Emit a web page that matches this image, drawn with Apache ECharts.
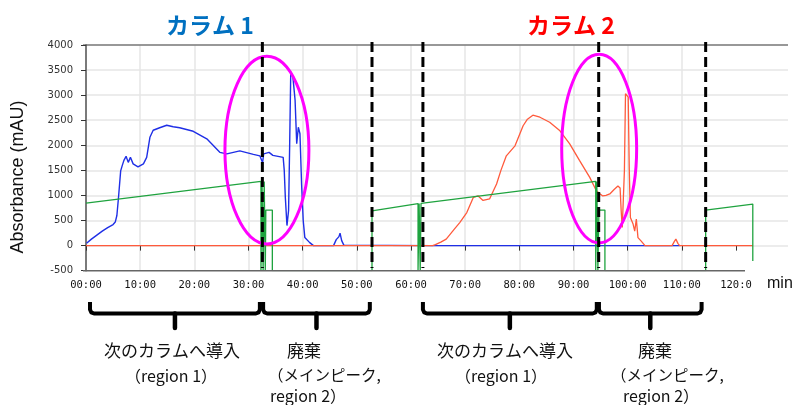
<!DOCTYPE html>
<html><head><meta charset="utf-8">
<script src="https://cdn.jsdelivr.net/npm/echarts@6/dist/echarts.min.js"></script>
<style>html,body{margin:0;padding:0;background:#fff}#c{width:798px;height:405px}</style>
</head><body><div id="c"></div>
<script>
// ---- data (time in minutes, absorbance in mAU) ----
const col1Time = [0.1,1,2,3,4,5,5.4,5.7,6,6.4,6.7,7,7.4,7.8,8.2,8.7,9.6,10.6,11.2,11.8,12.4,13.6,14.9,16.1,17.3,19.8,22.3,24.7,26,28.4,30.9,32.1,32.4,32.6,32.8,33.8,34.5,36.4,36.6,36.8,37.1,37.4,37.6,37.8,38.2,38.6,38.9,39.2,39.5,39.8,40.1,40.4,41.3,42,45.7,46.2,46.7,46.9,47.2,47.6,47.9,64,109.6];
const col1Abs  = [48,130,210,290,360,420,470,600,960,1490,1600,1700,1780,1660,1760,1630,1570,1630,1760,2160,2300,2350,2400,2370,2350,2280,2130,1860,1830,1890,1820,1790,1800,1650,1830,1860,1800,1760,1500,960,400,700,2000,3460,3360,2900,2030,2360,2230,1230,500,160,60,0,0,120,180,250,100,10,0,0,0];
const col2Time = [0,64,64.5,65.5,66.5,68,69,70.3,71.5,72.4,73.3,74.5,75.8,76.6,77.6,79.2,80.7,81.5,82.5,83.8,85.6,87.5,89.3,91.1,93,94.2,94.8,95.4,96,96.7,97.5,98.2,98.6,98.8,99,99.4,99.6,100.1,100.3,100.5,101,101.3,101.6,101.9,102.5,103.2,108.2,108.6,108.9,109.3,109.6,123.1];
const col2Abs  = [0,0,20,70,130,330,460,660,960,990,900,930,1230,1500,1790,1990,2390,2520,2600,2560,2460,2290,2030,1700,1360,1100,1040,990,1000,1030,1120,1190,1150,700,360,1500,3030,2960,1500,560,430,290,530,160,90,0,0,80,130,40,0,0];
const gradTime = [0,32.3,32.3,32.5,32.5,32.7,32.7,32.9,32.9,33.1,33.1,33.2,33.2,34.4,34.4,52.8,52.8,61.3,61.3,61.5,61.5,61.7,61.7,61.85,61.85,94.1,94.1,94.3,94.3,94.5,94.5,94.7,94.7,95.8,95.8,114.4,114.4,123.1,123.1];
const gradVal  = [846,1280,-500,-500,1280,1280,-500,-500,1280,1280,-500,-500,708,708,-500,-500,694,838,-500,-500,838,840,-500,-500,842,1280,-500,-500,1280,1280,-500,-500,708,708,-500,-500,708,828,-306];
const xTickValues = [0,10,20,30,40,50,60,70,80,90,100,110,120];
const xTickLabels = ['00:00','10:00','20:00','30:00','40:00','50:00','60:00','70:00','80:00','90:00','100:00','110:00','120:0'];
const switchTimes = [32.56, 52.8, 62.2, 94.65, 114.4];
const columnTitles = ['カラム 1', 'カラム 2'];
const regionSpans = [[0.74,32.1],[32.7,52.4],[62.2,94.3],[94.7,113.65]];
const ellipseCentres = [[33.4,1904],[94.74,1934]];
const ellipseHalfAxes = [[7.75,1870],[6.92,1880]];

const zip = (a,b) => a.map((t,i)=>[t,b[i]]);

const chart = echarts.init(document.getElementById('c'), null, {renderer:'canvas'});
const option = {
  animation:false,
  backgroundColor:'#fff',
  grid:{left:86, right:10, top:45, bottom:134.3, containLabel:false},
  xAxis:{type:'value', min:0, max:129.6, interval:10,
    axisLine:{show:false},
    axisTick:{show:true, length:5, customValues:xTickValues, lineStyle:{color:'#333', width:1}},
    axisLabel:{customValues:xTickValues, margin:9, fontFamily:'DejaVu Sans Mono', fontSize:10.5, color:'#111',
      formatter:(v)=>{const i=xTickValues.indexOf(v); return i>=0?xTickLabels[i]:'';}},
    splitLine:{show:true, showMaxLine:false, lineStyle:{color:'#e6e6e6', width:1.5}}},
  yAxis:{type:'value', min:-500, max:4000, interval:500, offset:3,
    axisLine:{show:true, lineStyle:{color:'#555', width:1.5}},
    axisTick:{show:true, length:5, lineStyle:{color:'#333'}},
    axisLabel:{margin:10, fontFamily:'DejaVu Sans', fontSize:10, color:'#333', formatter:(v)=>String(v)},
    splitLine:{show:true, showMinLine:false, lineStyle:{color:'#e6e6e6', width:1.5}}},
  series:[
    {type:'line', data:zip(col1Time,col1Abs), showSymbol:false, symbol:'none', lineStyle:{color:'#1f2fe6', width:1.4}, z:2},
    {type:'line', data:zip(col2Time,col2Abs), showSymbol:false, symbol:'none', lineStyle:{color:'#ff5a3c', width:1.3}, z:3},
    {type:'line', data:zip(gradTime,gradVal), showSymbol:false, symbol:'none', lineStyle:{color:'#1fa33f', width:1.3}, z:4}
  ]
};
chart.setOption(option);

const px = (t,v) => chart.convertToPixel({gridIndex:0}, [t,v]);
const g = [];
const yTop = px(0,4000)[1], yBot = px(0,-500)[1];
const xLeft = px(0,0)[0] - 3;
g.push({type:'line', shape:{x1:xLeft, y1:yTop, x2:788, y2:yTop}, style:{stroke:'#444', lineWidth:1.2}, z:20});
g.push({type:'line', shape:{x1:xLeft, y1:yBot, x2:745, y2:yBot}, style:{stroke:'#666', lineWidth:1.5}, z:20});
ellipseCentres.forEach((c,i)=>{
  const p = px(c[0],c[1]);
  const q = px(c[0]+ellipseHalfAxes[i][0], c[1]+ellipseHalfAxes[i][1]);
  g.push({type:'ellipse', shape:{cx:p[0], cy:p[1], rx:Math.abs(q[0]-p[0]), ry:Math.abs(p[1]-q[1])},
    style:{fill:null, stroke:'#ff00ff', lineWidth:3}, z:50});
});
switchTimes.forEach(t=>{
  const x = px(t,0)[0];
  g.push({type:'line', shape:{x1:x, y1:42, x2:x, y2:268}, style:{stroke:'#000', lineWidth:3, lineDash:[10,5]}, z:60});
});
const titleColors = ['#0070c0','#ff0000'];
const titleX = [210, 571];
columnTitles.forEach((s,i)=>{
  g.push({type:'text', x:titleX[i], y:25, style:{text:s, fill:titleColors[i], font:'bold 23px "Noto Sans CJK JP"', align:'center', verticalAlign:'middle'}, z:70});
});
g.push({type:'text', x:18, y:177, rotation:Math.PI/2, style:{text:'Absorbance (mAU)', fill:'#111', font:'18px "Liberation Sans"', align:'center', verticalAlign:'middle'}, z:70});
g.push({type:'text', x:767, y:284, style:{text:'min', fill:'#111', font:'16px "Liberation Sans"', align:'left', verticalAlign:'middle'}, z:70});
const y0 = 302, yh = 313.5, yTip = 328;
regionSpans.forEach(sp=>{
  const x1 = px(sp[0],0)[0], x2 = px(sp[1],0)[0], xm = (x1+x2)/2;
  g.push({type:'polyline', shape:{points:[[x1,y0],[x1,yh-4],[x1+1.2,yh-1.2],[x1+4,yh],[x2-4,yh],[x2-1.2,yh-1.2],[x2,yh-4],[x2,y0]]},
    style:{stroke:'#000', lineWidth:4, fill:null, lineJoin:'round'}, z:70});
  g.push({type:'line', shape:{x1:xm, y1:yh, x2:xm, y2:yTip}, style:{stroke:'#000', lineWidth:4.5, lineCap:'round'}, z:70});
});
const notes = [
  ['次のカラムへ導入', 172, 351, 'center', 17],
  ['（region 1）', 171, 376, 'center', 16],
  ['廃棄', 304, 351, 'center', 17],
  ['（メインピーク,', 268, 375, 'left', 15.5],
  ['region 2）', 270, 396, 'left', 16],
  ['次のカラムへ導入', 505, 351, 'center', 17],
  ['（region 1）', 501, 376, 'center', 16],
  ['廃棄', 655, 351, 'center', 17],
  ['（メインピーク,', 611, 375, 'left', 15.5],
  ['region 2）', 623, 396, 'left', 16]
];
notes.forEach(n=>{
  g.push({type:'text', x:n[1], y:n[2], style:{text:n[0], fill:'#111', font:n[4]+'px "Noto Sans CJK JP"', align:n[3], verticalAlign:'middle'}, z:70});
});
chart.setOption({graphic:{elements:g}});
</script>
</body></html>
